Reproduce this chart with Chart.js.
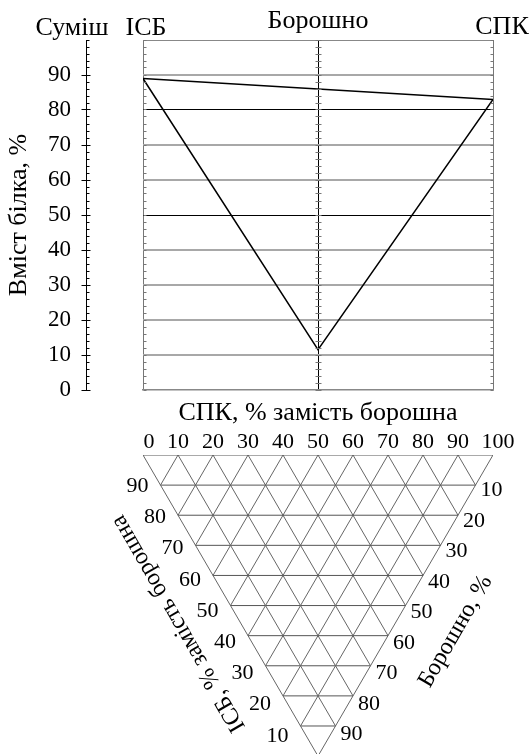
<!DOCTYPE html>
<html>
<head>
<meta charset="utf-8">
<script src="https://cdn.jsdelivr.net/npm/chart.js@4"></script>
<style>
  html, body { margin: 0; padding: 0; background: #fff; }
  #wrap { position: relative; width: 531px; height: 754px; }
  canvas { position: absolute; left: 0; top: 0; }
</style>
</head>
<body>
<div id="wrap">
  <canvas id="proteinChart" width="531" height="754"></canvas>
  <canvas id="ternaryChart" width="531" height="754"></canvas>
</div>
<script>
const FONT = 'Liberation Serif, Times New Roman, DejaVu Serif, serif';

// верхній графік: СПК, % замість борошна -> вміст білка, %
const mixShare = [0, 50, 100];
const mixProtein = [89, 11.5, 83];      // ІСБ -> Борошно -> СПК
const edgeShare = [0, 100];
const edgeProtein = [89, 83];           // пряма ІСБ - СПК

const yTicks = [0, 10, 20, 30, 40, 50, 60, 70, 80, 90];
const xMarks = [0, 50, 100];
const topLabels = ['ІСБ', 'Борошно', 'СПК'];

// трикутна діаграма
const gridSteps = [0, 10, 20, 30, 40, 50, 60, 70, 80, 90, 100];
const isbLabels = [90, 80, 70, 60, 50, 40, 30, 20, 10];
const flourLabels = [10, 20, 30, 40, 50, 60, 70, 80, 90];

const H = 50 * Math.sqrt(3); // висота трикутника в одиницях осі x

// ---------- верхній графік ----------
const axisExtras = {
  id: 'axisExtras',
  afterDraw(chart) {
    const { ctx, scales: { x, y } } = chart;
    const ax = Math.round(y.right - 0.5) + 0.5;
    const cols = xMarks.map(v => Math.round(x.getPixelForValue(v) - 0.5) + 0.5);
    ctx.save();
    ctx.lineWidth = 1;
    for (let v = 0; v <= 100; v += 2) {
      const py = Math.round(y.getPixelForValue(v) - 0.5) + 0.5;
      const major = v % 10 === 0 && v < 100;
      ctx.strokeStyle = '#000';
      ctx.beginPath();
      ctx.moveTo(major ? ax - 5 : ax, py);
      ctx.lineTo(ax + (major ? 4 : 3), py);
      ctx.stroke();
      ctx.strokeStyle = '#777';
      ctx.beginPath();
      ctx.moveTo(cols[0], py); ctx.lineTo(cols[0] + 3, py);
      ctx.moveTo(cols[1] - 3, py); ctx.lineTo(cols[1] + 3, py);
      ctx.moveTo(cols[2] - 3, py); ctx.lineTo(cols[2], py);
      ctx.stroke();
    }
    // підписи зверху
    ctx.fillStyle = '#000';
    ctx.font = '26px ' + FONT;
    ctx.textAlign = 'center';
    ctx.textBaseline = 'alphabetic';
    ctx.fillText('Суміш', y.right - 14, 35);
    ctx.fillText(topLabels[0], x.getPixelForValue(xMarks[0]) + 3, 35);
    ctx.fillText(topLabels[1], x.getPixelForValue(xMarks[1]), 28);
    ctx.fillText(topLabels[2], x.getPixelForValue(xMarks[2]) + 9, 34);
    ctx.restore();
  }
};

new Chart(document.getElementById('proteinChart').getContext('2d'), {
  type: 'line',
  data: {
    datasets: [{
      label: 'Суміш',
      data: mixShare.map((v, i) => ({ x: v, y: mixProtein[i] })),
      borderColor: '#000',
      borderWidth: 1.5,
      pointRadius: 0,
      fill: false,
      tension: 0
    }, {
      label: 'ІСБ - СПК',
      data: edgeShare.map((v, i) => ({ x: v, y: edgeProtein[i] })),
      borderColor: '#000',
      borderWidth: 1.5,
      pointRadius: 0,
      fill: false,
      tension: 0
    }]
  },
  options: {
    responsive: false,
    animation: false,
    layout: { padding: { left: 0, right: 38, top: 40, bottom: 325 } },
    plugins: { legend: { display: false }, tooltip: { enabled: false } },
    scales: {
      x: {
        type: 'linear', position: 'bottom', min: 0, max: 100,
        afterBuildTicks: s => { s.ticks = xMarks.map(v => ({ value: v })); },
        afterFit: s => { s.height = 39; },
        ticks: { display: false },
        grid: {
          drawTicks: false,
          color: c => (c.tick && c.tick.value === 50) ? '#000' : '#777',
          lineWidth: 1
        },
        border: { display: true, color: '#888', width: 1.5 },
        title: {
          display: true, text: 'СПК, % замість борошна', color: '#000',
          font: { family: FONT, size: 26 }, padding: 0
        }
      },
      y: {
        type: 'linear', position: 'left', min: 0, max: 100, weight: 1,
        afterBuildTicks: s => { s.ticks = yTicks.map(v => ({ value: v })); },
        afterFit: s => { s.width = 86; },
        grid: { drawOnChartArea: false, drawTicks: false },
        border: { display: true, color: '#000', width: 1 },
        ticks: { color: '#000', font: { family: FONT, size: 23 }, padding: 15 },
        title: {
          display: true, text: 'Вміст білка, %', color: '#000',
          font: { family: FONT, size: 26 }, padding: { top: 4, bottom: 0 }
        }
      },
      yg: {
        type: 'linear', position: 'left', min: 0, max: 100, weight: 0,
        afterBuildTicks: s => { s.ticks = gridSteps.map(v => ({ value: v })); },
        afterFit: s => { s.width = 57; },
        ticks: { display: false },
        grid: {
          drawTicks: false,
          color: c => {
            const v = c.tick ? c.tick.value : 0;
            if (v === 0) return 'rgba(0,0,0,0)';
            if (v === 50 || v === 80) return '#000';
            if (v === 100) return '#888';
            return '#a8a8a8';
          },
          lineWidth: c => {
            const v = c.tick ? c.tick.value : 0;
            return (v === 50 || v === 80 || v === 100) ? 1 : 2;
          }
        },
        border: { display: false }
      }
    }
  },
  plugins: [axisExtras]
});

// ---------- трикутна діаграма ----------
const triSets = [];
function addLine(x1, y1, x2, y2, color) {
  triSets.push({
    data: [{ x: x1, y: y1 }, { x: x2, y: y2 }],
    borderColor: color,
    borderWidth: 1,
    pointRadius: 0,
    showLine: true,
    fill: false
  });
}
gridSteps.forEach((s, k) => {
  const row = k * H / 10;
  if (k < 10) addLine(5 * k, row, 100 - 5 * k, row, '#555');          // горизонталі
  if (k < 10) addLine(s, 0, 50 + s / 2, H - s * H / 100, '#666');     // паралельно лівій стороні
  if (k > 0) addLine(s, 0, s / 2, s * H / 100, '#666');               // паралельно правій стороні
});

const ternaryLabels = {
  id: 'ternaryLabels',
  afterDraw(chart) {
    const { ctx, scales: { x, y } } = chart;
    ctx.save();
    ctx.fillStyle = '#000';
    ctx.font = '22px ' + FONT;
    ctx.textAlign = 'center';
    ctx.textBaseline = 'alphabetic';
    gridSteps.forEach((v, i) => {
      const dx = i === 0 ? 6 : (i === gridSteps.length - 1 ? 5 : 0);
      ctx.fillText(String(v), x.getPixelForValue(v) + dx, y.getPixelForValue(0) - 7);
    });
    ctx.textBaseline = 'middle';
    ctx.textAlign = 'right';
    isbLabels.forEach((v, i) => {
      const k = i + 1;
      ctx.fillText(String(v), x.getPixelForValue(5 * k) - 12, y.getPixelForValue(k * H / 10) + 1.1 * k);
    });
    ctx.textAlign = 'left';
    flourLabels.forEach((v, i) => {
      const k = i + 1;
      ctx.fillText(String(v), x.getPixelForValue(100 - 5 * k) + 5, y.getPixelForValue(k * H / 10) + 5 + 0.4 * k);
    });
    // назви сторін
    ctx.font = '24px ' + FONT;
    ctx.textAlign = 'center';
    const lx = x.getPixelForValue(25) - 52, ly = y.getPixelForValue(H / 2) + 18;
    ctx.translate(lx, ly);
    ctx.rotate(-2 * Math.PI / 3);
    ctx.fillText('ІСБ, % замість борошна', 0, 0);
    ctx.setTransform(1, 0, 0, 1, 0, 0);
    const rx = x.getPixelForValue(75) + 50, ry = y.getPixelForValue(H / 2) + 26;
    ctx.translate(rx, ry);
    ctx.rotate(-Math.PI / 3);
    ctx.fillText('Борошно, %', 0, 0);
    ctx.restore();
  }
};

new Chart(document.getElementById('ternaryChart').getContext('2d'), {
  type: 'scatter',
  data: { datasets: triSets },
  options: {
    responsive: false,
    animation: false,
    layout: { padding: { left: 143, right: 38, top: 455, bottom: 0 } },
    plugins: { legend: { display: false }, tooltip: { enabled: false } },
    scales: {
      x: { type: 'linear', min: 0, max: 100, display: false },
      y: { type: 'linear', min: 0, max: 86, reverse: true, display: false }
    }
  },
  plugins: [ternaryLabels]
});
</script>
</body>
</html>
